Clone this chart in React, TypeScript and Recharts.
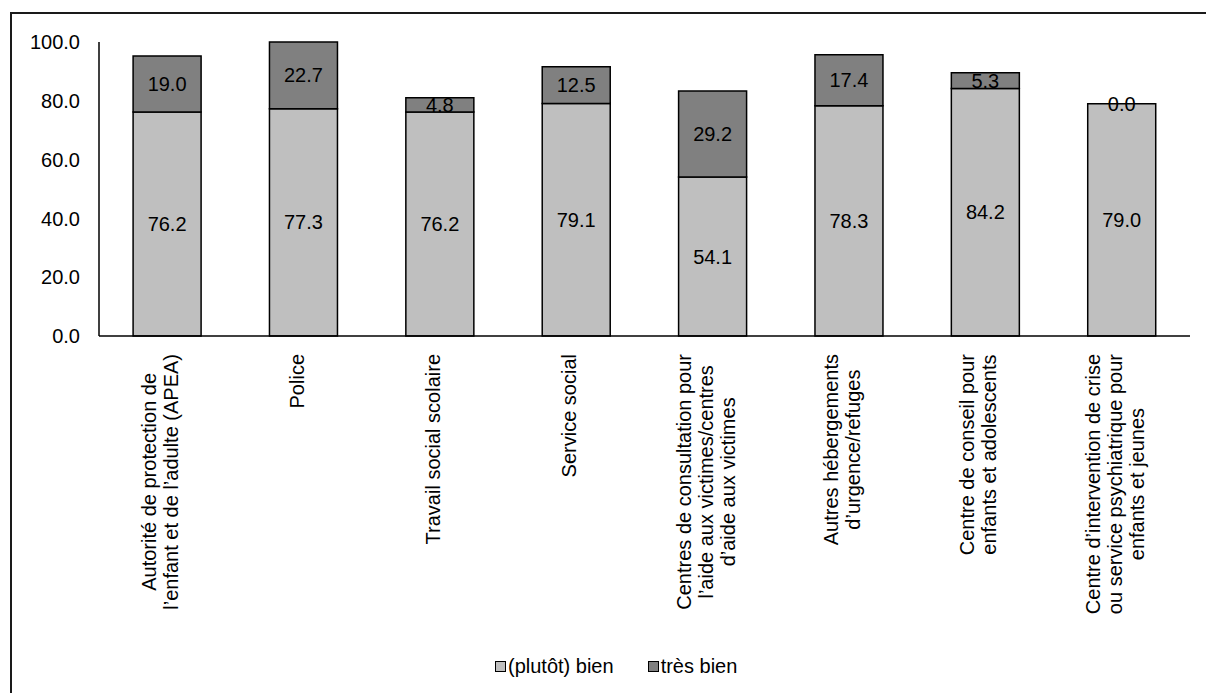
import React from 'react';
import { BarChart, Bar, XAxis, YAxis, LabelList } from 'recharts';

const categories = [
  'Autorité de protection de\nl’enfant et de l’adulte (APEA)',
  'Police',
  'Travail social scolaire',
  'Service social',
  'Centres de consultation pour\nl’aide aux victimes/centres\nd’aide aux victimes',
  'Autres hébergements\nd’urgence/refuges',
  'Centre de conseil pour\nenfants et adolescents',
  'Centre d’intervention de crise\nou service psychiatrique pour\nenfants et jeunes',
];

const plutotBien = [76.2, 77.3, 76.2, 79.1, 54.1, 78.3, 84.2, 79.0];
const tresBien = [19.0, 22.7, 4.8, 12.5, 29.2, 17.4, 5.3, 0.0];

const seriesNames = ['(plutôt) bien', 'très bien'];
const seriesColors = ['#bfbfbf', '#808080'];

const yTicks = [0, 20, 40, 60, 80, 100];

const FONT = '"Liberation Sans", Arial, sans-serif';
const FONT_SIZE = 20;
const LINE_HEIGHT = 22;

const data = categories.map((name, i) => ({
  name,
  bien: plutotBien[i],
  tres: tresBien[i],
}));

// canvas is only used to measure line widths so multi-line labels can be centred
let measureCtx: CanvasRenderingContext2D | null = null;
const textWidth = (s: string) => {
  if (!measureCtx) {
    measureCtx = document.createElement('canvas').getContext('2d');
  }
  if (!measureCtx) return s.length * FONT_SIZE * 0.5;
  measureCtx.font = `${FONT_SIZE}px "Liberation Sans", Arial`;
  return measureCtx.measureText(s).width;
};

const CategoryTick = ({ x, y, payload }: any) => {
  const lines: string[] = String(payload.value).split('\n');
  const maxW = Math.max(...lines.map(textWidth));
  const n = lines.length;
  return (
    <g transform={`translate(${x - 7}, ${y + 16}) rotate(-90)`}>
      {lines.map((line, i) => (
        <text
          key={i}
          x={-maxW / 2}
          y={(i - (n - 1) / 2) * LINE_HEIGHT}
          dy="0.35em"
          textAnchor="middle"
          fill="#000"
          fontSize={FONT_SIZE}
          fontFamily={FONT}
        >
          {line}
        </text>
      ))}
    </g>
  );
};

const fmt = (v: any) => Number(v).toFixed(1);

// a zero "très bien" segment has no height, so its label sits on top of the lower bar
const ZeroTopLabel = ({ x, y, width, index }: any) => {
  if (tresBien[index] !== 0) return null;
  return (
    <text
      x={x + width / 2}
      y={y}
      dy="0.35em"
      textAnchor="middle"
      fill="#000"
      fontSize={FONT_SIZE}
      fontFamily={FONT}
    >
      {fmt(tresBien[index])}
    </text>
  );
};

export default function App() {
  return (
    <div
      style={{
        position: 'fixed',
        left: 0,
        top: 0,
        width: 1206,
        height: 693,
        overflow: 'hidden',
        background: '#fff',
        fontFamily: FONT,
      }}
    >
      <div
        style={{
          position: 'absolute',
          left: 10,
          top: 12,
          width: 1300,
          height: 800,
          border: '2px solid #1a1a1a',
        }}
      />
      <div style={{ position: 'absolute', left: 0, top: 0 }}>
        <BarChart
          width={1206}
          height={693}
          data={data}
          margin={{ top: 42, right: 16, left: 0, bottom: 0 }}
          barCategoryGap="25%"
        >
          <XAxis
            dataKey="name"
            height={357}
            interval={0}
            tickLine={false}
            tickSize={0}
            tick={<CategoryTick />}
            stroke="#000"
            strokeWidth={1.5}
          />
          <YAxis
            width={99}
            domain={[0, 100]}
            ticks={yTicks}
            tickFormatter={fmt}
            tickLine={false}
            tickSize={0}
            tickMargin={19}
            stroke="#000"
            strokeWidth={1.5}
            tick={{ fill: '#000', fontSize: FONT_SIZE, fontFamily: FONT }}
          />
          <Bar
            dataKey="bien"
            name={seriesNames[0]}
            stackId="a"
            fill={seriesColors[0]}
            stroke="#000"
            strokeWidth={1.5}
            isAnimationActive={false}
          >
            <LabelList
              dataKey="bien"
              position="center"
              formatter={fmt}
              fill="#000"
              fontSize={FONT_SIZE}
              fontFamily={FONT}
            />
            <LabelList dataKey="tres" content={<ZeroTopLabel />} />
          </Bar>
          <Bar
            dataKey="tres"
            name={seriesNames[1]}
            stackId="a"
            fill={seriesColors[1]}
            stroke="#000"
            strokeWidth={1.5}
            isAnimationActive={false}
          >
            <LabelList
              dataKey="tres"
              position="center"
              formatter={fmt}
              fill="#000"
              fontSize={FONT_SIZE}
              fontFamily={FONT}
            />
          </Bar>
        </BarChart>
      </div>
      <div
        style={{
          position: 'absolute',
          left: 495,
          top: 654,
          display: 'flex',
          alignItems: 'center',
          gap: 34,
          fontSize: FONT_SIZE,
          color: '#000',
          lineHeight: '24px',
        }}
      >
        {seriesNames.map((name, i) => (
          <div key={name} style={{ display: 'flex', alignItems: 'center' }}>
            <span
              style={{
                display: 'inline-block',
                width: 9,
                height: 9,
                background: seriesColors[i],
                border: '1.5px solid #000',
                marginRight: 2,
              }}
            />
            {name}
          </div>
        ))}
      </div>
    </div>
  );
}
